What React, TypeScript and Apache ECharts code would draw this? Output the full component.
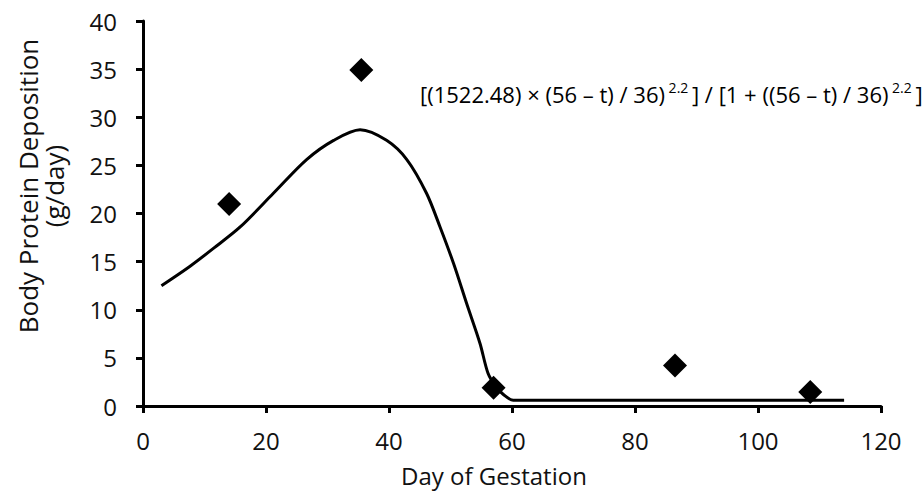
import React, { useEffect, useRef } from "react";
import * as echarts from "echarts";

const observedDays = [14, 35.5, 57, 86.5, 108.5];
const observedValues = [21, 34.9, 1.9, 4.2, 1.45];

const fitDays = [3, 7.6, 11.5, 15.8, 21.2, 26.6, 31, 35.3, 39.6, 42.9, 46.1, 48.3, 50.5, 52.6, 54.8, 56.1, 57.4, 58.6, 60.2, 80, 100, 114];
const fitValues = [12.5, 14.5, 16.4, 18.6, 22.1, 25.6, 27.6, 28.7, 27.6, 25.6, 22.1, 18.6, 14.8, 10.7, 6.5, 3.4, 2.0, 1.2, 0.6, 0.6, 0.6, 0.6];

const xTicks = [0, 20, 40, 60, 80, 100, 120];
const yTicks = [0, 5, 10, 15, 20, 25, 30, 35, 40];

const xTitle = "Day of Gestation";
const yTitle = "Body Protein Deposition\n(g/day)";

const FONT = "'Open Sans', 'Noto Sans', sans-serif";

export default function App() {
  const ref = useRef<HTMLDivElement>(null);
  useEffect(() => {
    if (!ref.current) return;
    const chart = echarts.init(ref.current, undefined, { renderer: "svg" });
    chart.setOption({
      animation: false,
      backgroundColor: "#ffffff",
      grid: { left: 143, right: 41, top: 21, bottom: 87, containLabel: false },
      xAxis: {
        type: "value",
        min: xTicks[0],
        max: xTicks[xTicks.length - 1],
        interval: 20,
        axisLine: { show: true, onZero: false, lineStyle: { color: "#000", width: 3 } },
        axisTick: { show: true, inside: false, length: 7, lineStyle: { color: "#000", width: 3 } },
        axisLabel: { fontFamily: FONT, fontSize: 24, color: "#111", margin: 22 },
        splitLine: { show: false },
      },
      yAxis: {
        type: "value",
        min: yTicks[0],
        max: yTicks[yTicks.length - 1],
        interval: 5,
        axisLine: { show: true, onZero: false, lineStyle: { color: "#000", width: 3 } },
        axisTick: { show: true, inside: false, length: 7, lineStyle: { color: "#000", width: 3 } },
        axisLabel: { fontFamily: FONT, fontSize: 24, color: "#111", margin: 26 },
        splitLine: { show: false },
      },
      series: [
        {
          type: "line",
          data: fitDays.map((d, i) => [d, fitValues[i]]),
          smooth: 0.3,
          symbol: "none",
          lineStyle: { color: "#000", width: 3 },
          z: 2,
        },
        {
          type: "scatter",
          data: observedDays.map((d, i) => [d, observedValues[i]]),
          symbol: "diamond",
          symbolSize: [24, 24],
          itemStyle: { color: "#000", opacity: 1 },
          z: 3,
        },
      ],
      graphic: [
        {
          type: "text",
          x: 494,
          y: 475,
          style: {
            text: xTitle,
            align: "center",
            verticalAlign: "middle",
            fontFamily: FONT,
            fontSize: 24,
            fill: "#111",
          },
        },
        {
          type: "text",
          x: 41,
          y: 186,
          rotation: Math.PI / 2,
          style: {
            text: yTitle,
            align: "center",
            verticalAlign: "middle",
            fontFamily: FONT,
            fontSize: 26,
            lineHeight: 26,
            fill: "#111",
          },
        },
        {
          type: "text",
          left: 420,
          top: 80,
          style: {
            text: "{n|[(1522.48) × (56 – t) / 36)}{s| 2.2 }{n|] / [1 + ((56 – t) / 36)}{s| 2.2 }{n|]}",
            rich: {
              n: { fontFamily: FONT, fontSize: 22, color: "#111", verticalAlign: "bottom", lineHeight: 25 },
              s: { fontFamily: FONT, fontSize: 14, color: "#111", verticalAlign: "top", lineHeight: 25, padding: [0, 0, 11, 0] },
            },
          },
        },
      ],
    });
    return () => chart.dispose();
  }, []);
  return <div ref={ref} style={{ width: 922, height: 493, position: "absolute", left: 0, top: 0 }} />;
}
